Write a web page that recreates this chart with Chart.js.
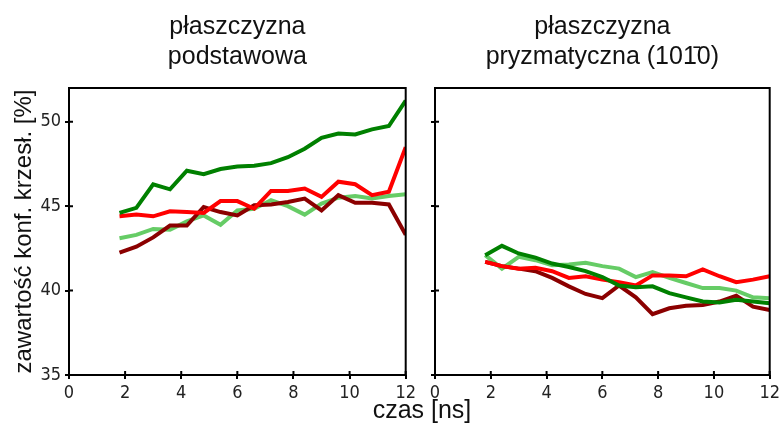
<!DOCTYPE html>
<html>
<head>
<meta charset="utf-8">
<script src="https://cdn.jsdelivr.net/npm/chart.js@4.4.1/dist/chart.umd.min.js"></script>
<style>
  body { margin: 0; background: #fff; }
  #wrap { position: relative; width: 784px; height: 425px; }
  #left { position: absolute; left: 0; top: 0; width: 420px; height: 425px; }
  #right { position: absolute; left: 420px; top: 0; width: 364px; height: 425px; }
  #xlab { position: absolute; left: 322px; width: 200px; top: 397px; text-align: center;
          font-family: "Liberation Sans", Arial, sans-serif; font-size: 25px; line-height: 25px; color: #111; }
</style>
</head>
<body>
<div id="wrap">
  <div id="left"><canvas id="chartLeft"></canvas></div>
  <div id="right"><canvas id="chartRight"></canvas></div>
  <div id="xlab">czas [ns]</div>
</div>
<script>
// czas symulacji [ns]
const times = [1.8, 2.4, 3.0, 3.6, 4.2, 4.8, 5.4, 6.0, 6.6, 7.2, 7.8, 8.4, 9.0, 9.6, 10.2, 10.8, 11.4, 12.0];

// plaszczyzna podstawowa
const basalDarkGreen = [44.6, 44.9, 46.3, 46.0, 47.1, 46.9, 47.2, 47.35, 47.4, 47.55, 47.9, 48.4, 49.05, 49.3, 49.25, 49.55, 49.75, 51.25];
const basalRed = [44.4, 44.5, 44.4, 44.7, 44.65, 44.6, 45.3, 45.3, 44.85, 45.9, 45.9, 46.05, 45.55, 46.45, 46.3, 45.65, 45.85, 48.5];
const basalDarkRed = [42.25, 42.6, 43.15, 43.85, 43.85, 44.95, 44.65, 44.45, 45.05, 45.1, 45.25, 45.45, 44.75, 45.65, 45.2, 45.2, 45.1, 43.3];
const basalLightGreen = [43.1, 43.3, 43.65, 43.6, 44.1, 44.45, 43.9, 44.75, 44.85, 45.35, 45.0, 44.5, 45.15, 45.5, 45.6, 45.45, 45.6, 45.7];

// plaszczyzna pryzmatyczna
const prismDarkGreen = [42.1, 42.65, 42.2, 41.95, 41.6, 41.4, 41.15, 40.8, 40.3, 40.2, 40.25, 39.85, 39.6, 39.35, 39.3, 39.45, 39.35, 39.25];
const prismRed = [41.7, 41.45, 41.3, 41.35, 41.15, 40.75, 40.85, 40.65, 40.5, 40.3, 40.9, 40.9, 40.85, 41.25, 40.85, 40.5, 40.65, 40.85];
const prismDarkRed = [41.7, 41.45, 41.3, 41.15, 40.75, 40.25, 39.8, 39.55, 40.3, 39.6, 38.6, 38.95, 39.1, 39.15, 39.35, 39.7, 39.05, 38.85];
const prismLightGreen = [42.1, 41.3, 42.0, 41.8, 41.5, 41.55, 41.65, 41.45, 41.3, 40.8, 41.1, 40.75, 40.45, 40.15, 40.15, 40.0, 39.6, 39.55];

const xTicks = [0, 2, 4, 6, 8, 10, 12];
const yTicks = [35, 40, 45, 50];

const colors = {
  darkGreen: '#008000',
  red: '#ff0000',
  darkRed: '#8b0000',
  lightGreen: '#66cc66'
};

function toPoints(vals) {
  return vals.map((v, i) => ({ x: times[i], y: v }));
}

function makeDatasets(dg, r, dr, lg) {
  const ds = (vals, c) => ({
    data: toPoints(vals),
    borderColor: c,
    borderWidth: 4,
    pointRadius: 0,
    fill: false,
    tension: 0
  });
  return [ds(dg, colors.darkGreen), ds(r, colors.red), ds(dr, colors.darkRed), ds(lg, colors.lightGreen)];
}

// ramka wokol wykresu + krotkie kreski do srodka
const framePlugin = {
  id: 'frame',
  afterDatasetsDraw(chart) {
    const { ctx, chartArea: a, scales } = chart;
    ctx.save();
    ctx.strokeStyle = '#000';
    ctx.lineWidth = 2;
    ctx.strokeRect(a.left, a.top, a.right - a.left, a.bottom - a.top);
    ctx.beginPath();
    xTicks.forEach(v => {
      const px = scales.x.getPixelForValue(v);
      ctx.moveTo(px, a.bottom);
      ctx.lineTo(px, a.bottom - 4);
    });
    yTicks.forEach(v => {
      const py = scales.y.getPixelForValue(v);
      ctx.moveTo(a.left, py);
      ctx.lineTo(a.left + 4, py);
    });
    ctx.stroke();
    ctx.restore();
  }
};

const tickFont = { family: '"DejaVu Sans Condensed", "DejaVu Sans", sans-serif', size: 18 };
const titleFont = { family: '"Liberation Sans", Arial, sans-serif', size: 25, weight: 'normal', lineHeight: 1.2 };

function makeOptions(title, showYLabels, yWidth, padRight) {
  return {
    responsive: true,
    maintainAspectRatio: false,
    animation: false,
    layout: { padding: { left: 0, right: padRight, top: 0, bottom: 0 } },
    plugins: {
      legend: { display: false },
      tooltip: { enabled: false },
      title: {
        display: true,
        text: title,
        fullSize: false,
        color: '#111',
        font: titleFont,
        padding: { top: 12, bottom: 16 }
      }
    },
    scales: {
      x: {
        type: 'linear',
        min: 0,
        max: 12,
        afterBuildTicks: s => { s.ticks = xTicks.map(v => ({ value: v })); },
        afterFit: s => { s.height = 50; },
        ticks: { color: '#222', font: tickFont, padding: 4, maxRotation: 0 },
        grid: { drawOnChartArea: false, color: '#000', lineWidth: 2, tickLength: 4 },
        border: { display: false }
      },
      y: {
        min: 35,
        max: 52,
        afterBuildTicks: s => { s.ticks = yTicks.map(v => ({ value: v })); },
        afterFit: s => { s.width = yWidth; },
        ticks: { display: showYLabels, color: '#222', font: tickFont, padding: 4 },
        grid: { drawOnChartArea: false, color: '#000', lineWidth: 2, tickLength: 4 },
        border: { display: false },
        title: {
          display: showYLabels,
          text: 'zawartość konf. krzesł. [%]',
          color: '#111',
          font: { family: '"Liberation Sans", Arial, sans-serif', size: 24 },
          padding: { top: 10, bottom: 0 }
        }
      }
    }
  };
}

new Chart(document.getElementById('chartLeft'), {
  type: 'line',
  data: { datasets: makeDatasets(basalDarkGreen, basalRed, basalDarkRed, basalLightGreen) },
  options: makeOptions(['płaszczyzna', 'podstawowa'], true, 69, 12),
  plugins: [framePlugin]
});

new Chart(document.getElementById('chartRight'), {
  type: 'line',
  data: { datasets: makeDatasets(prismDarkGreen, prismRed, prismDarkRed, prismLightGreen) },
  options: makeOptions(['płaszczyzna', 'pryzmatyczna (101\u03040)'], false, 15, 11),
  plugins: [framePlugin]
});
</script>
</body>
</html>
